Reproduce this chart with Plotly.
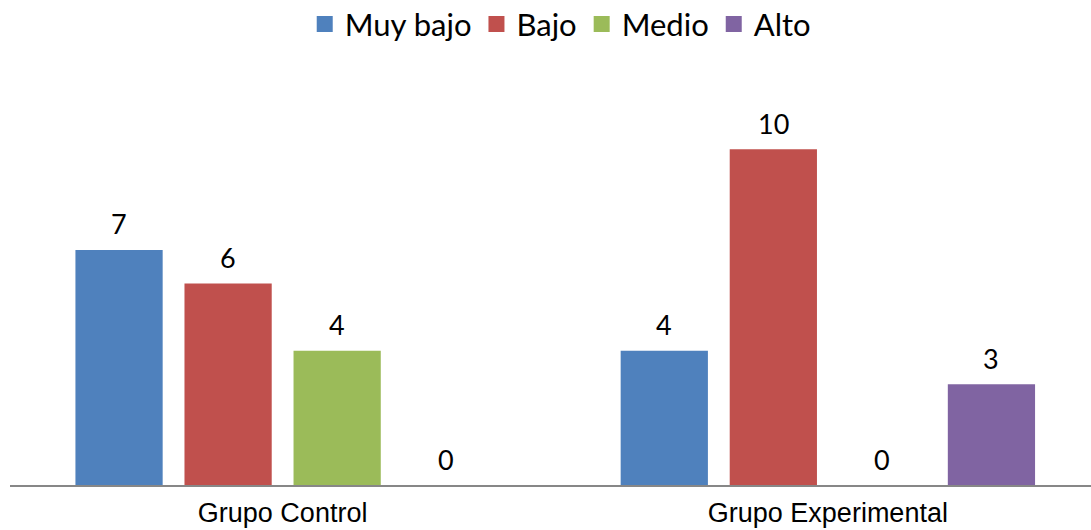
import plotly.graph_objects as go

categories = ["Grupo Control", "Grupo Experimental"]
series_names = ["Muy bajo", "Bajo", "Medio", "Alto"]
muy_bajo = [7, 4]
bajo = [6, 10]
medio = [4, 0]
alto = [0, 3]
series_values = [muy_bajo, bajo, medio, alto]
colors = ["#4F81BD", "#C0504D", "#9BBB59", "#8064A2"]

LABEL_FONT = "Lato, Calibri, Carlito, sans-serif"
AXIS_FONT = "Liberation Sans, Arial, sans-serif"

bargap = 0.2
bargroupgap = 0.2
n = len(series_names)
slot = (1 - bargap) / n

fig = go.Figure()
for i, (name, vals, col) in enumerate(zip(series_names, series_values, colors)):
    fig.add_trace(go.Bar(
        x=categories, y=vals, name=name, marker_color=col,
        marker_line_width=0, showlegend=False, hoverinfo="x+y+name",
    ))
    # legend entry with square marker
    fig.add_trace(go.Scatter(
        x=[None], y=[None], mode="markers", name=name,
        marker=dict(symbol="square", size=17, color=col),
        showlegend=True,
    ))
    # data labels above bars
    for gi, v in enumerate(vals):
        xpos = gi - (1 - bargap) / 2 + slot * (i + 0.5)
        fig.add_annotation(
            x=xpos, y=v, text=str(v), showarrow=False,
            yanchor="middle", yshift=26,
            font=dict(family=LABEL_FONT, size=27, color="#000000"),
        )

fig.update_layout(
    barmode="group",
    bargap=bargap,
    bargroupgap=bargroupgap,
    width=1091, height=530,
    margin=dict(l=10, r=0, t=82, b=45, autoexpand=False),
    paper_bgcolor="white",
    plot_bgcolor="white",
    legend=dict(
        orientation="h", x=0.509, xanchor="center",
        y=1.143, yanchor="middle",
        font=dict(family=LABEL_FONT, size=31, color="#000000"),
        itemclick=False, itemdoubleclick=False,
    ),
    xaxis=dict(
        type="category",
        range=[-0.5, 1.4826],
        showline=True, linecolor="#878787", linewidth=2,
        showgrid=False, ticks="", zeroline=False,
        tickfont=dict(family=AXIS_FONT, size=27, color="#000000"),
        ticklabelstandoff=3,
        automargin=False,
    ),
    yaxis=dict(
        range=[0, 12], showgrid=False, zeroline=False,
        showticklabels=False, showline=False, ticks="",
        automargin=False,
    ),
)

fig.write_html("out.html")
